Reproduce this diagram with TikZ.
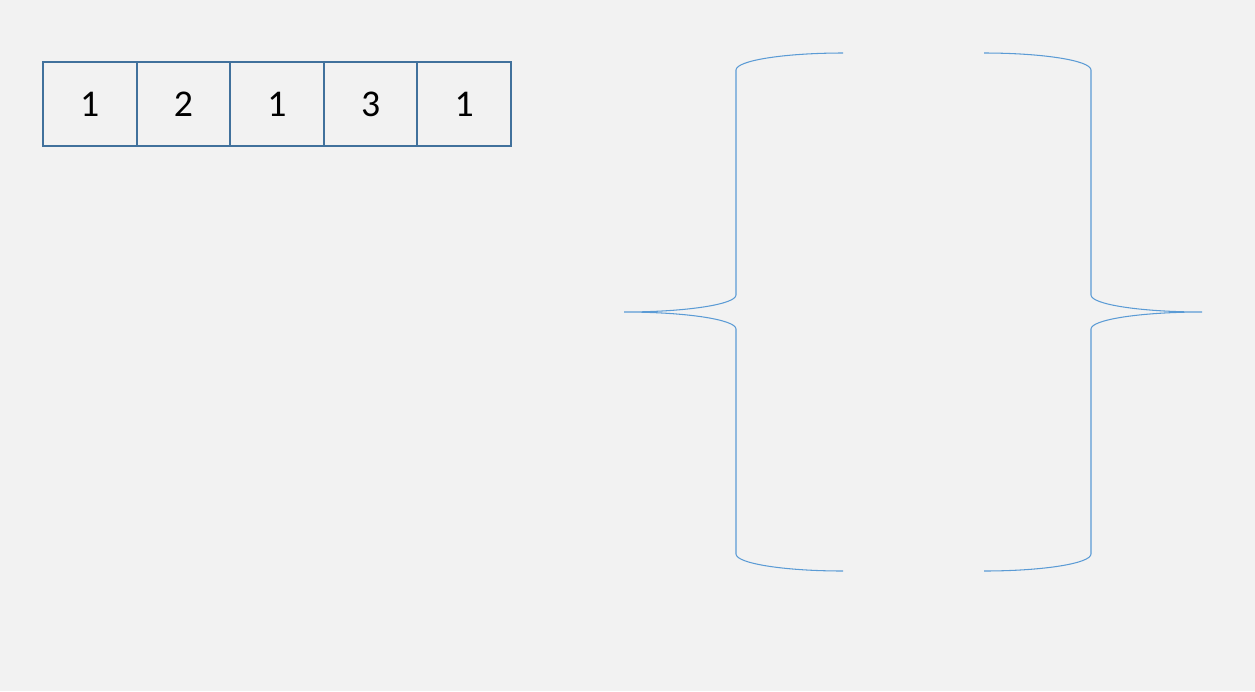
\documentclass[tikz,border=0pt]{standalone}
\usepackage{fontspec}
\setmainfont{Carlito}
\definecolor{cellblue}{HTML}{41719C}
\definecolor{braceblue}{HTML}{5B9BD5}
\definecolor{bggray}{HTML}{F2F2F2}

\begin{document}
\begin{tikzpicture}[x=0.02cm,y=-0.02cm,
  cell/.style={rectangle,draw=cellblue,line width=1.1pt,minimum width=1.872cm,minimum height=1.68cm,
    inner sep=0pt,font=\fontsize{21.5}{25}\selectfont},
  brace/.style={draw=braceblue,line width=0.6pt}]
\fill[bggray] (0,0) rectangle (1255,691);
\useasboundingbox (0,0) rectangle (1255,691);

% row of cells
\path (89.8,104) node[cell] (c1) {1};
\path (183.4,104) node[cell] (c2) {2};
\path (277,104) node[cell] (c3) {1};
\path (370.6,104) node[cell] (c4) {3};
\path (464.2,104) node[cell] (c5) {1};

% left brace
\draw[brace] (843,53) arc[start angle=-90,end angle=-180,x radius=107,y radius=17]
  -- (736,295) arc[start angle=0,end angle=90,x radius=112,y radius=17]
  arc[start angle=-90,end angle=0,x radius=112,y radius=17]
  -- (736,554) arc[start angle=180,end angle=90,x radius=107,y radius=17];

% right brace
\draw[brace] (984,53) arc[start angle=-90,end angle=0,x radius=107,y radius=17]
  -- (1091,295) arc[start angle=180,end angle=90,x radius=111,y radius=17]
  arc[start angle=-90,end angle=-180,x radius=111,y radius=17]
  -- (1091,554) arc[start angle=0,end angle=90,x radius=107,y radius=17];
\end{tikzpicture}
\end{document}
